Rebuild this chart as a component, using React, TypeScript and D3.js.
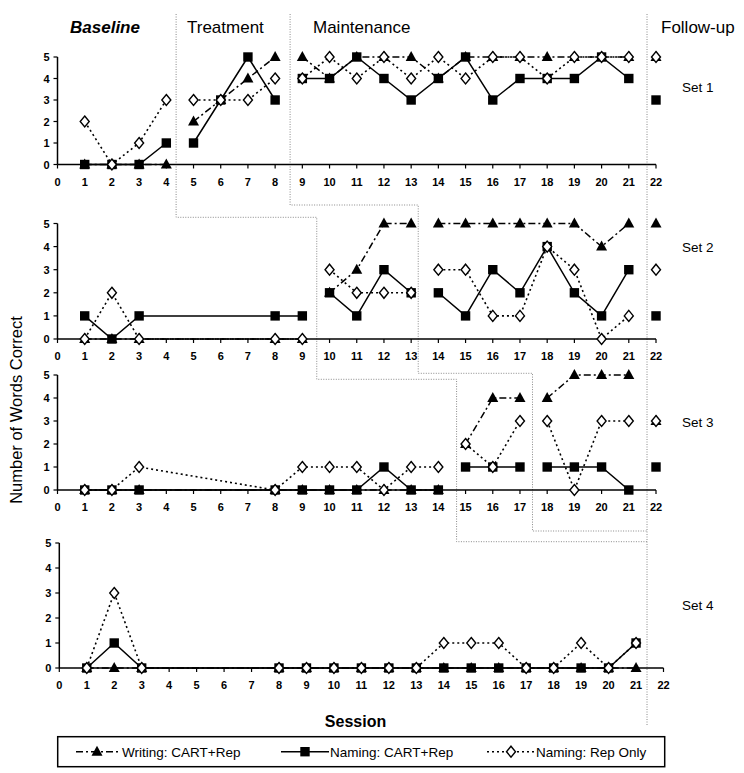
import React from "react";
import * as d3 from "d3";

// ---------------- DATA ----------------
const set1Sessions = [1, 2, 3, 4, 5, 6, 7, 8, 9, 10, 11, 12, 13, 14, 15, 16, 17, 18, 19, 20, 21, 22];
const set1Writing = [0, 0, 0, 0, 2, 3, 4, 5, 5, 4, 5, 5, 5, 4, 5, 5, 5, 5, 5, 5, 5, 5];
const set1Naming = [0, 0, 0, 1, 1, 3, 5, 3, 4, 4, 5, 4, 3, 4, 5, 3, 4, 4, 4, 5, 4, 3];
const set1Rep = [2, 0, 1, 3, 3, 3, 3, 4, 4, 5, 4, 5, 4, 5, 4, 5, 5, 4, 5, 5, 5, 5];
const set1PhaseEnds = [4, 8, 21];

const set2Sessions = [1, 2, 3, 8, 9, 10, 11, 12, 13, 14, 15, 16, 17, 18, 19, 20, 21, 22];
const set2Writing = [0, 0, 0, 0, 0, 2, 3, 5, 5, 5, 5, 5, 5, 5, 5, 4, 5, 5];
const set2Naming = [1, 0, 1, 1, 1, 2, 1, 3, 2, 2, 1, 3, 2, 4, 2, 1, 3, 1];
const set2Rep = [0, 2, 0, 0, 0, 3, 2, 2, 2, 3, 3, 1, 1, 4, 3, 0, 1, 3];
const set2PhaseEnds = [9, 13, 21];

const set3Sessions = [1, 2, 3, 8, 9, 10, 11, 12, 13, 14, 15, 16, 17, 18, 19, 20, 21, 22];
const set3Writing = [0, 0, 0, 0, 0, 0, 0, 0, 0, 0, 2, 4, 4, 4, 5, 5, 5, 3];
const set3Naming = [0, 0, 0, 0, 0, 0, 0, 1, 0, 0, 1, 1, 1, 1, 1, 1, 0, 1];
const set3Rep = [0, 0, 1, 0, 1, 1, 1, 0, 1, 1, 2, 1, 3, 3, 0, 3, 3, 3];
const set3PhaseEnds = [14, 17, 21];

const set4Sessions = [1, 2, 3, 8, 9, 10, 11, 12, 13, 14, 15, 16, 17, 18, 19, 20, 21];
const set4Writing = [0, 0, 0, 0, 0, 0, 0, 0, 0, 0, 0, 0, 0, 0, 0, 0, 0];
const set4Naming = [0, 1, 0, 0, 0, 0, 0, 0, 0, 0, 0, 0, 0, 0, 0, 0, 1];
const set4Rep = [0, 3, 0, 0, 0, 0, 0, 0, 0, 1, 1, 1, 0, 0, 1, 0, 1];
const set4PhaseEnds = [21];

const setLabels = ["Set 1", "Set 2", "Set 3", "Set 4"];
const phaseHeaders = ["Baseline", "Treatment", "Maintenance", "Follow-up"];
const seriesNames = ["Writing: CART+Rep", "Naming: CART+Rep", "Naming: Rep Only"];
const xTicks = d3.range(0, 23);
const yTicks = [0, 1, 2, 3, 4, 5];

// phase-change lines (session positions where they run in each set)
const baselineEnds = [4.36, 9.53, 14.67];
const treatmentEnds = [8.55, 13.26, 17.46];
const followUpAt = 21.67;

// ---------------- LAYOUT ----------------
const W = 744;
const H = 773;
const FONT = "'Liberation Sans', Arial, Helvetica, sans-serif";

const panels = [
  { sessions: set1Sessions, writing: set1Writing, naming: set1Naming, rep: set1Rep, ends: set1PhaseEnds, y0: 164.5, y5: 57, xr: [57.5, 656], labelY: 92 },
  { sessions: set2Sessions, writing: set2Writing, naming: set2Naming, rep: set2Rep, ends: set2PhaseEnds, y0: 339, y5: 223.5, xr: [57.5, 656], labelY: 252 },
  { sessions: set3Sessions, writing: set3Writing, naming: set3Naming, rep: set3Rep, ends: set3PhaseEnds, y0: 490, y5: 375, xr: [57.5, 656], labelY: 427 },
  { sessions: set4Sessions, writing: set4Writing, naming: set4Naming, rep: set4Rep, ends: set4PhaseEnds, y0: 668, y5: 543, xr: [59.3, 663.5], labelY: 610 },
];

const stepA = [217.3, 379.3, 541.7];
const stepB = [205, 373.3, 531];

const triPath = "M0,-6L5.5,4L-5.5,4Z";
const diaPath = "M0,-5.5L4.5,0L0,5.5L-4.5,0Z";

function Triangle({ x, y }: { x: number; y: number }) {
  return <path d={triPath} transform={`translate(${x},${y})`} fill="#000" />;
}
function Square({ x, y }: { x: number; y: number }) {
  return <rect x={x - 4.7} y={y - 4.7} width={9.4} height={9.4} fill="#000" />;
}
function Diamond({ x, y }: { x: number; y: number }) {
  return <path d={diaPath} transform={`translate(${x},${y})`} fill="#fff" stroke="#000" strokeWidth={1.4} />;
}

const WRITE_DASH = "7,3,2,3";
const REP_DASH = "2,3";

function Panel({ p, idx }: { p: any; idx: number }) {
  const x = d3.scaleLinear().domain([0, 22]).range(p.xr);
  const y = d3.scaleLinear().domain([0, 5]).range([p.y0, p.y5]);
  const groups: number[][] = [];
  let cur: number[] = [];
  p.sessions.forEach((s: number, i: number) => {
    cur.push(i);
    if (p.ends.includes(s) || i === p.sessions.length - 1) {
      groups.push(cur);
      cur = [];
    }
  });
  const line = (vals: number[], g: number[]) =>
    d3.line<number>().x((i) => x(p.sessions[i])).y((i) => y(vals[i]))(g) || "";

  return (
    <g>
      {/* axes */}
      <line x1={x(0)} x2={x(22)} y1={y(0)} y2={y(0)} stroke="#000" strokeWidth={1.5} />
      <line x1={x(0)} x2={x(0)} y1={y(0)} y2={y(5)} stroke="#000" strokeWidth={1.5} />
      {xTicks.map((t) => (
        <g key={"xt" + t}>
          <line x1={x(t)} x2={x(t)} y1={y(0)} y2={y(0) + 4} stroke="#000" strokeWidth={1.2} />
          <text x={x(t)} y={y(0) + 21} textAnchor="middle" fontSize={11} fontWeight="bold" fontFamily={FONT}>
            {t}
          </text>
        </g>
      ))}
      {yTicks.map((t) => (
        <g key={"yt" + t}>
          <line x1={x(0) - 4} x2={x(0)} y1={y(t)} y2={y(t)} stroke="#000" strokeWidth={1.2} />
          <text x={x(0) - 8} y={y(t) + 4} textAnchor="end" fontSize={11} fontWeight="bold" fontFamily={FONT}>
            {t}
          </text>
        </g>
      ))}
      {/* lines */}
      {groups.map((g, gi) =>
        g.length > 1 ? (
          <g key={"g" + gi} fill="none">
            <path d={line(p.naming, g)} stroke="#000" strokeWidth={1.5} />
            <path d={line(p.writing, g)} stroke="#000" strokeWidth={1.5} strokeDasharray={WRITE_DASH} />
            <path d={line(p.rep, g)} stroke="#000" strokeWidth={1.6} strokeDasharray={REP_DASH} />
          </g>
        ) : null
      )}
      {/* markers */}
      {p.sessions.map((s: number, i: number) => (
        <Square key={"s" + i} x={x(s)} y={y(p.naming[i])} />
      ))}
      {p.sessions.map((s: number, i: number) => (
        <Triangle key={"t" + i} x={x(s)} y={y(p.writing[i])} />
      ))}
      {p.sessions.map((s: number, i: number) => (
        <Diamond key={"d" + i} x={x(s)} y={y(p.rep[i])} />
      ))}
      <text x={682} y={p.labelY} fontSize={13.5} fontFamily={FONT}>
        {setLabels[idx]}
      </text>
    </g>
  );
}

export default function App() {
  const xs = d3.scaleLinear().domain([0, 22]).range(panels[0].xr as [number, number]);
  const xF = xs(followUpAt);
  const top = 14;
  const pathA = `M${xs(baselineEnds[0])},${top}V${stepA[0]}H${xs(baselineEnds[1])}V${stepA[1]}H${xs(baselineEnds[2])}V${stepA[2]}H${xF}`;
  const pathB = `M${xs(treatmentEnds[0])},${top}V${stepB[0]}H${xs(treatmentEnds[1])}V${stepB[1]}H${xs(treatmentEnds[2])}V${stepB[2]}H${xF}`;
  const pathF = `M${xF},${top}V725`;

  const ly = 751.7;
  return (
    <svg
      width={W}
      height={H}
      viewBox={`0 0 ${W} ${H}`}
      style={{ position: "absolute", left: 0, top: 0, background: "#fff" }}
    >
      <rect x={0} y={0} width={W} height={H} fill="#fff" />
      {/* phase lines */}
      <g fill="none" stroke="#8a8a8a" strokeWidth={1} strokeDasharray="1,1.5">
        <path d={pathA} />
        <path d={pathB} />
        <path d={pathF} />
      </g>
      {/* headers */}
      <text x={105} y={33} textAnchor="middle" fontSize={17} fontWeight="bold" fontStyle="italic" fontFamily={FONT}>
        {phaseHeaders[0]}
      </text>
      <text x={187} y={33} fontSize={17} fontFamily={FONT}>
        {phaseHeaders[1]}
      </text>
      <text x={313} y={33} fontSize={17} fontFamily={FONT}>
        {phaseHeaders[2]}
      </text>
      <text x={661} y={33} fontSize={17} fontFamily={FONT}>
        {phaseHeaders[3]}
      </text>

      {panels.map((p, i) => (
        <Panel key={i} p={p} idx={i} />
      ))}

      {/* axis titles */}
      <text
        transform="translate(22,410) rotate(-90)"
        textAnchor="middle"
        fontSize={16.5}
        fontFamily={FONT}
      >
        Number of Words Correct
      </text>
      <text x={355.5} y={727} textAnchor="middle" fontSize={16} fontWeight="bold" fontFamily={FONT}>
        Session
      </text>

      {/* legend */}
      <rect x={57.7} y={736.7} width={607} height={30} fill="#fff" stroke="#000" strokeWidth={1.5} />
      <line x1={76} x2={118} y1={ly} y2={ly} stroke="#000" strokeWidth={1.5} strokeDasharray={WRITE_DASH} />
      <Triangle x={97} y={ly} />
      <text x={122} y={ly + 5} fontSize={13.5} fontFamily={FONT}>
        {seriesNames[0]}
      </text>
      <line x1={281} x2={329} y1={ly} y2={ly} stroke="#000" strokeWidth={1.5} />
      <Square x={305} y={ly} />
      <text x={330} y={ly + 5} fontSize={13.5} fontFamily={FONT}>
        {seriesNames[1]}
      </text>
      <line x1={487} x2={534} y1={ly} y2={ly} stroke="#000" strokeWidth={1.6} strokeDasharray={REP_DASH} />
      <Diamond x={511} y={ly} />
      <text x={536} y={ly + 5} fontSize={13.5} fontFamily={FONT}>
        {seriesNames[2]}
      </text>
    </svg>
  );
}
